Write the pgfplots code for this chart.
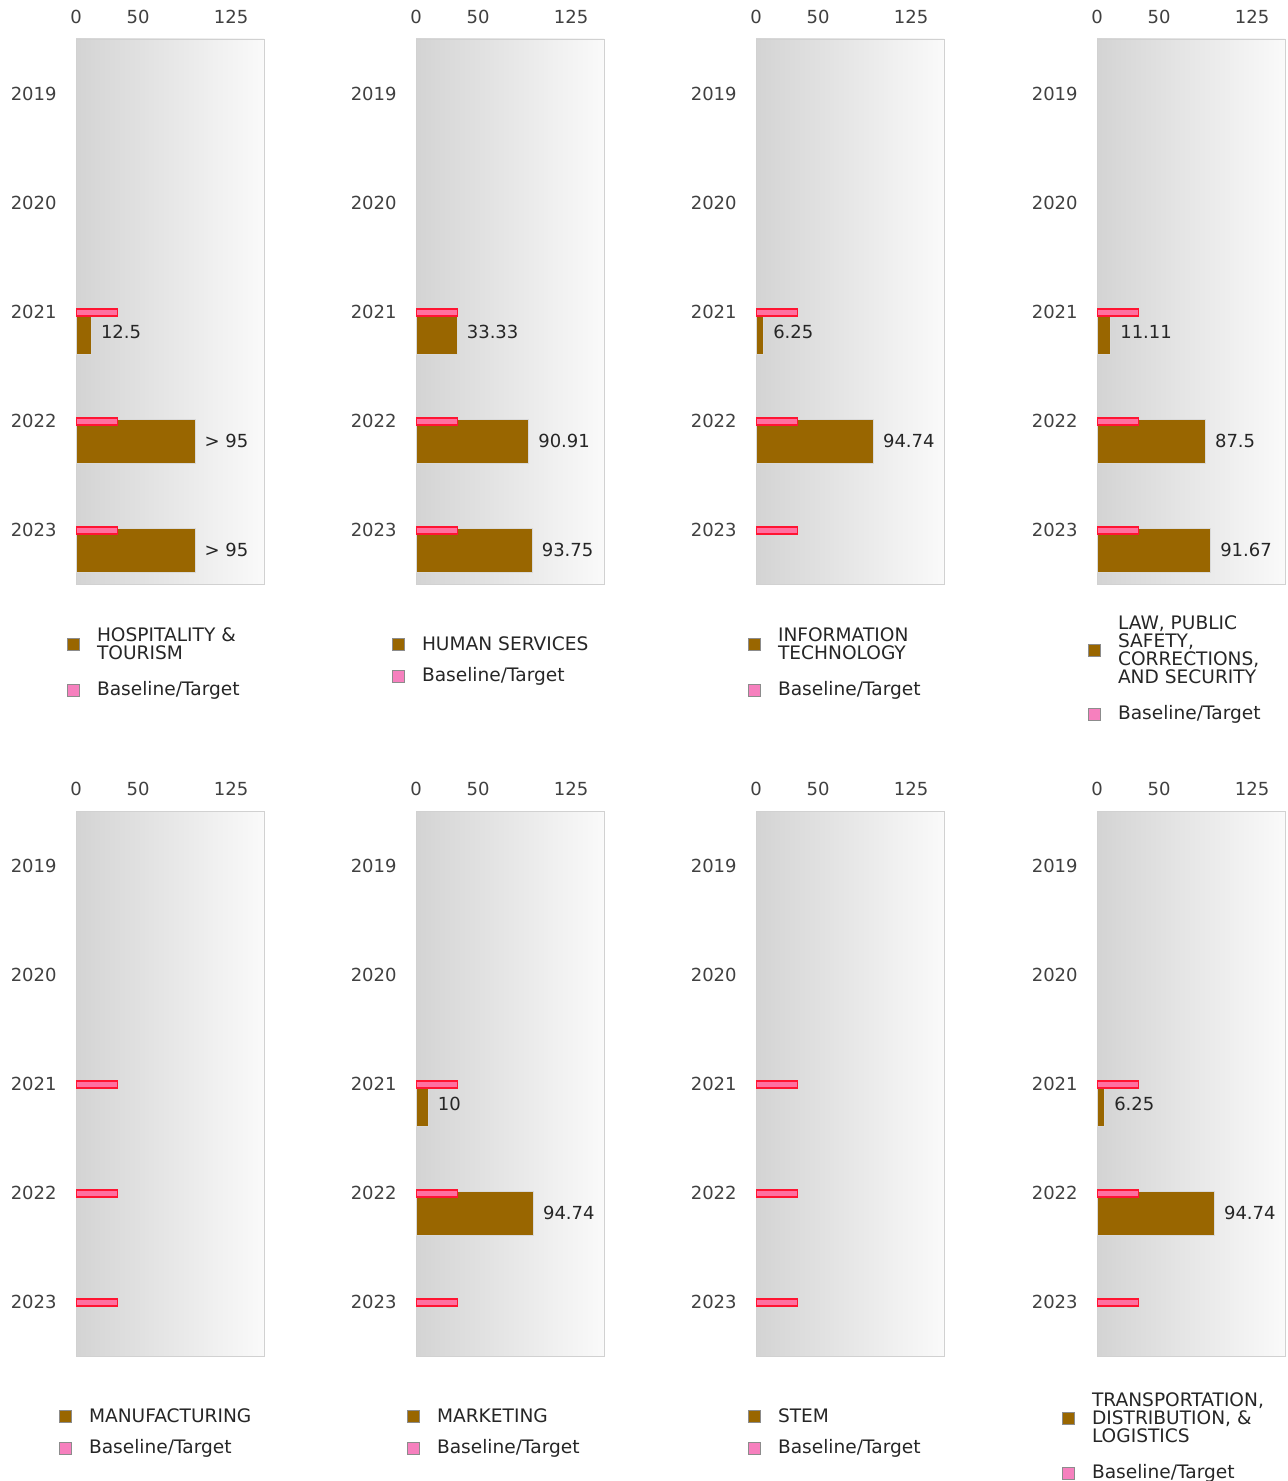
\documentclass[border=0pt]{standalone}
\usepackage{fontspec}
\setmainfont{DejaVu Sans}
\usepackage{pgfplots}
\pgfplotsset{compat=1.18}

\definecolor{barbrown}{RGB}{153,102,0}
\definecolor{basefill}{RGB}{255,112,160}
\definecolor{basedraw}{RGB}{255,20,50}
\definecolor{legpink}{RGB}{246,128,190}

\pgfplotsset{
  panel/.style={
    xbar, scale only axis,
    width=94pt, height=272.5pt,
    anchor=north west,
    xmin=0, xmax=151.5, ymin=-0.5, ymax=4.5,
    xtick={0,50,125}, xticklabels={0,50,125},
    ytick={0,1,2,3,4}, yticklabels={2023,2022,2021,2020,2019},
    xticklabel pos=right,
    major tick length=0pt,
    tick style={draw=none},
    axis line style={draw=black!18},
    axis background/.style={left color=black!17, right color=black!2},
    tick label style={font=\fontsize{9}{9}\selectfont, text=black!75},
    xticklabel style={inner sep=0pt, yshift=7.5pt},
    yticklabel style={inner sep=0pt, xshift=-9.5pt},
    legend cell align=left,
    legend style={draw=none, fill=none, inner sep=0pt, outer sep=0pt,
      at={(0,0)}, anchor=north west, column sep=6.5pt,
      font=\fontsize{9.3}{9}\selectfont, text=black!85,
      cells={align=left, inner sep=0pt}},
  },
  mainbar/.style={barbrown, fill=barbrown, draw=white!85!black, line width=0.5pt,
    bar width=22pt, bar shift=-10.25pt,
    point meta=explicit symbolic, nodes near coords,
    every node near coord/.append style={anchor=west, inner sep=0pt, xshift=4.5pt,
      font=\fontsize{9}{9}\selectfont, text=black!85}},
  basebar/.style={fill=basefill, draw=basedraw, line width=0.6pt,
    bar width=3.5pt, bar shift=-0.5pt},
  legbrown/.style={legend image code/.code={
    \draw[fill=barbrown, draw=black!45, line width=0.5pt] (0pt,-3pt) rectangle (6pt,3pt);}},
  legpinkimg/.style={legend image code/.code={
    \draw[fill=legpink, draw=black!45, line width=0.5pt] (0pt,-3pt) rectangle (6pt,3pt);}},
}

\begin{document}
\begin{tikzpicture}
\path[use as bounding box] (0,0) rectangle (644pt,-740.5pt);

% row 1
\begin{axis}[panel, at={(38pt,-19.5pt)},
  legend style={xshift=-4.5pt, yshift=-19.75pt, row sep=5.7pt}]
\addlegendimage{legbrown}
\addlegendentry{HOSPITALITY \&\\TOURISM}
\addlegendimage{legpinkimg}
\addlegendentry{Baseline/Target}
\addplot[mainbar, forget plot] coordinates {(12.5,2) [12.5] (96,1) [> 95] (96,0) [> 95]};
\addplot[basebar, forget plot] coordinates {(33.33,2) (33.33,1) (33.33,0)};
\end{axis}

\begin{axis}[panel, at={(208pt,-19.5pt)},
  legend style={xshift=-12pt, yshift=-24.25pt, row sep=3.2pt}]
\addlegendimage{legbrown}
\addlegendentry{HUMAN SERVICES}
\addlegendimage{legpinkimg}
\addlegendentry{Baseline/Target}
\addplot[mainbar, forget plot] coordinates {(33.33,2) [33.33] (90.91,1) [90.91] (93.75,0) [93.75]};
\addplot[basebar, forget plot] coordinates {(33.33,2) (33.33,1) (33.33,0)};
\end{axis}

\begin{axis}[panel, at={(378pt,-19.5pt)},
  legend style={xshift=-4pt, yshift=-19.75pt, row sep=5.7pt}]
\addlegendimage{legbrown}
\addlegendentry{INFORMATION\\TECHNOLOGY}
\addlegendimage{legpinkimg}
\addlegendentry{Baseline/Target}
\addplot[mainbar, forget plot] coordinates {(6.25,2) [6.25] (94.74,1) [94.74]};
\addplot[basebar, forget plot] coordinates {(33.33,2) (33.33,1) (33.33,0)};
\end{axis}

\begin{axis}[panel, at={(548.5pt,-19.5pt)},
  legend style={xshift=-4.5pt, yshift=-13.75pt, row sep=5.7pt}]
\addlegendimage{legbrown}
\addlegendentry{LAW, PUBLIC\\SAFETY,\\CORRECTIONS,\\AND SECURITY}
\addlegendimage{legpinkimg}
\addlegendentry{Baseline/Target}
\addplot[mainbar, forget plot] coordinates {(11.11,2) [11.11] (87.5,1) [87.5] (91.67,0) [91.67]};
\addplot[basebar, forget plot] coordinates {(33.33,2) (33.33,1) (33.33,0)};
\end{axis}

% row 2
\begin{axis}[panel, at={(38pt,-405.5pt)},
  legend style={xshift=-8.5pt, yshift=-24.25pt, row sep=3.2pt}]
\addlegendimage{legbrown}
\addlegendentry{MANUFACTURING}
\addlegendimage{legpinkimg}
\addlegendentry{Baseline/Target}
\addplot[basebar, forget plot] coordinates {(33.33,2) (33.33,1) (33.33,0)};
\end{axis}

\begin{axis}[panel, at={(208pt,-405.5pt)},
  legend style={xshift=-4.5pt, yshift=-24.25pt, row sep=3.2pt}]
\addlegendimage{legbrown}
\addlegendentry{MARKETING}
\addlegendimage{legpinkimg}
\addlegendentry{Baseline/Target}
\addplot[mainbar, forget plot] coordinates {(10,2) [10] (94.74,1) [94.74]};
\addplot[basebar, forget plot] coordinates {(33.33,2) (33.33,1) (33.33,0)};
\end{axis}

\begin{axis}[panel, at={(378pt,-405.5pt)},
  legend style={xshift=-4pt, yshift=-24.25pt, row sep=3.2pt}]
\addlegendimage{legbrown}
\addlegendentry{STEM}
\addlegendimage{legpinkimg}
\addlegendentry{Baseline/Target}
\addplot[basebar, forget plot] coordinates {(33.33,2) (33.33,1) (33.33,0)};
\end{axis}

\begin{axis}[panel, at={(548.5pt,-405.5pt)},
  legend style={xshift=-17.5pt, yshift=-16.25pt, row sep=5.7pt}]
\addlegendimage{legbrown}
\addlegendentry{TRANSPORTATION,\\DISTRIBUTION, \&\\LOGISTICS}
\addlegendimage{legpinkimg}
\addlegendentry{Baseline/Target}
\addplot[mainbar, forget plot] coordinates {(6.25,2) [6.25] (94.74,1) [94.74]};
\addplot[basebar, forget plot] coordinates {(33.33,2) (33.33,1) (33.33,0)};
\end{axis}
\end{tikzpicture}
\end{document}
